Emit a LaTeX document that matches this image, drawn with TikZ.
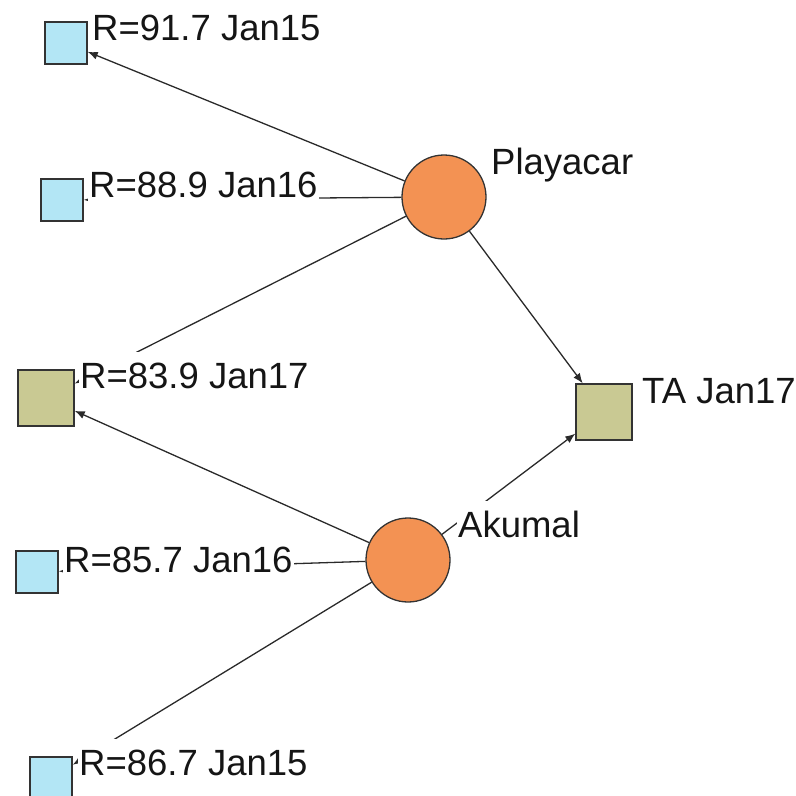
\documentclass[tikz,border=0pt]{standalone}
\usepackage{fontspec}
\setmainfont{Liberation Sans}
\usetikzlibrary{arrows.meta}
\definecolor{hubfill}{HTML}{F39253}
\definecolor{leafblue}{HTML}{B3E6F5}
\definecolor{leafolive}{HTML}{C9C993}
\definecolor{edgegray}{HTML}{333333}
\definecolor{linegray}{HTML}{2A2A2A}
\definecolor{textgray}{HTML}{151515}
\begin{document}
\begin{tikzpicture}[x=1pt,y=-1pt,
  hub/.style={circle,draw=edgegray,fill=hubfill,line width=1.3pt,minimum size=84pt,inner sep=0pt},
  leaf/.style={rectangle,draw=edgegray,fill=leafblue,line width=1.4pt,minimum size=42pt,inner sep=0pt},
  bigleaf/.style={leaf,fill=leafolive,minimum size=56pt},
  tag/.style={fill=white,inner xsep=1pt,inner ysep=0pt,text height=36pt,text depth=8pt,
    anchor=base west,font=\fontsize{36.5}{40}\selectfont,text=textgray},
  link/.style={draw=linegray,line width=1.3pt,-{Latex[length=10pt,width=8pt]}}
]
\useasboundingbox (0,0) rectangle (796,796);
\clip (0,0) rectangle (796,796);

% sites
\node[hub] (play) at (444,197) {};
\node[hub] (aku)  at (408,560) {};

% rated observations
\node[leaf]    (r917) at (66,43)   {};
\node[leaf]    (r889) at (62,200)  {};
\node[bigleaf] (r839) at (46,398)  {};
\node[leaf]    (r857) at (37,572)  {};
\node[leaf]    (r867) at (51,778)  {};
\node[bigleaf] (ta)   at (604,412) {};

% connectors
\draw[link] (play) -- (r917);
\draw[link] (play) -- (r889);
\draw[link] (play) -- (r839);
\draw[link] (play) -- (ta);
\draw[link] (aku) -- (r839);
\draw[link] (aku) -- (r857);
\draw[link] (aku) -- (r867);
\draw[link] (aku) -- (ta);

% labels (opaque, drawn over the connectors)
\node[tag] (l917) at (91,40)   {R=91.7 Jan15};
\node[tag] (l889) at (88,197)  {R=88.9 Jan16};
\node[tag] (l839) at (79,388)  {R=83.9 Jan17};
\node[tag] (l857) at (63,572)  {R=85.7 Jan16};
\node[tag] (l867) at (78,775)  {R=86.7 Jan15};
\node[tag] (lplay) at (490,174) {Playacar};
\node[tag] (laku)  at (457,537) {Akumal};
\node[tag] (lta)   at (641,403) {TA Jan17};
\end{tikzpicture}
\end{document}
